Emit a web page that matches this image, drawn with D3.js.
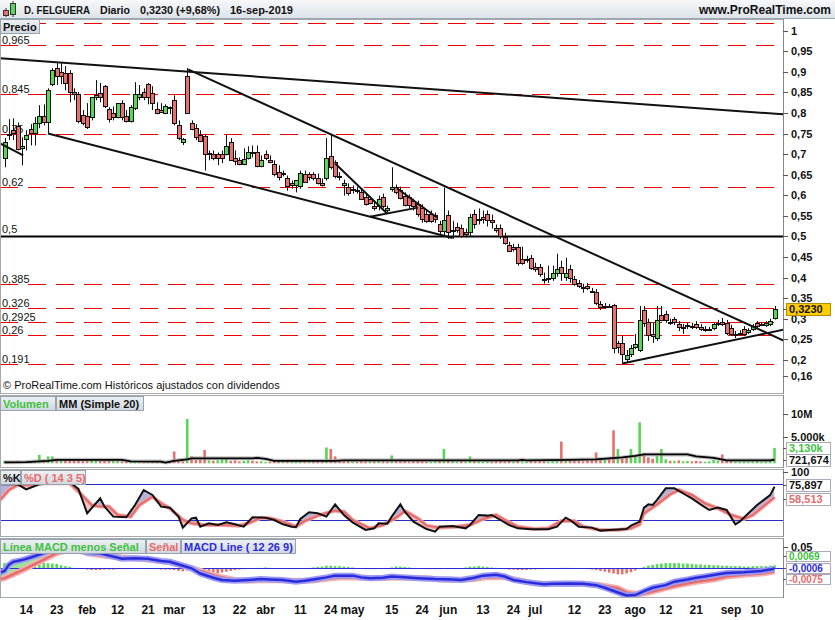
<!DOCTYPE html>
<html>
<head>
<meta charset="utf-8">
<script src="https://cdn.jsdelivr.net/npm/d3@7"></script>
<style>
  body { margin: 0; background: #fff; }
  svg { display: block; font-family: Arial, "Liberation Sans", sans-serif; }
</style>
</head>
<body>
<script>
const WIDTH = 835;
const HEIGHT = 620;
const PLOT_R = 783;

// ---- data ----
const holidays = ['2019-04-19', '2019-04-22', '2019-05-01'];

const opens = [.690,.745,.758,.768,.714,.736,.760,.751,.775,.792, .777,.870,.909,.899,.897,.897,.851,.846,.794,.792,
  .790,.839,.848,.865,.809,.800,.790,.824,.792,.780, .812,.839,.851,.870,.848,.809,.807,.800,.812,.831,
  .770,.729,.890,.775,.763,.746,.743,.702,.700,.700, .700,.700,.729,.690,.685,.675,.690,.704,.704,.670,
  .700,.685,.675,.656,.653,.641,.629,.624,.621,.651, .651,.651,.643,.631,.641,.695,.680,.646,.626,.621,
  .616,.614,.609,.597,.590,.575,.573,.595,.565,.614, .619,.614,.599,.595,.585,.580,.568,.555,.555,.551,
  .531,.514,.551,.516,.524,.521,.511,.509,.555,.543, .546,.555,.541,.521,.521,.499,.480,.475,.475,.446,
  .446,.448,.426,.426,.397,.399,.399,.411,.426,.402, .421,.397,.387,.377,.380,.367,.365,.336,.331,.331,
  .333,.241,.241,.202,.214,.231,.224,.321,.292,.263, .253,.309,.312,.292,.300,.287,.280,.282,.282,.287,
  .280,.275,.275,.277,.287,.292,.290,.277,.263,.265, .275,.268,.275,.290,.287,.285,.287,.300];
const highs = [.739,.785,.787,.777,.741,.758,.773,.790,.819,.821, .860,.909,.921,.921,.914,.904,.860,.851,.807,.824,
  .839,.880,.873,.868,.814,.816,.824,.831,.807,.819, .875,.868,.860,.873,.865,.826,.824,.821,.816,.843,
  .782,.739,.909,.782,.773,.758,.748,.709,.709,.704, .709,.748,.739,.709,.692,.714,.719,.721,.721,.697,
  .709,.697,.685,.673,.660,.648,.636,.636,.660,.660, .656,.656,.653,.641,.739,.748,.685,.656,.638,.629,
  .624,.621,.616,.604,.597,.587,.599,.604,.575,.668, .626,.621,.607,.602,.592,.587,.578,.565,.563,.558,
  .538,.619,.563,.538,.533,.529,.519,.555,.565,.568, .563,.563,.553,.529,.529,.509,.487,.482,.482,.475,
  .453,.455,.436,.433,.412,.429,.429,.458,.441,.448, .431,.404,.394,.385,.387,.375,.372,.343,.338,.336,
  .336,.246,.258,.224,.236,.263,.331,.331,.300,.290, .331,.331,.319,.300,.304,.294,.287,.290,.290,.294,
  .287,.282,.280,.290,.297,.302,.297,.285,.270,.272, .282,.277,.287,.294,.292,.294,.300,.331];
const lows = [.668,.734,.734,.709,.673,.709,.721,.721,.763,.770, .751,.865,.868,.870,.855,.826,.831,.775,.770,.761,
  .782,.831,.826,.812,.777,.782,.787,.782,.777,.777, .807,.831,.831,.821,.807,.797,.800,.797,.797,.770,
  .734,.722,.800,.758,.734,.729,.660,.685,.685,.673, .678,.697,.685,.673,.673,.673,.687,.692,.668,.668,
  .685,.678,.646,.636,.646,.611,.616,.607,.616,.631, .636,.636,.626,.621,.636,.663,.641,.636,.599,.599,
  .604,.604,.590,.575,.578,.563,.563,.568,.558,.609, .602,.590,.573,.568,.563,.548,.533,.533,.533,.533,
  .499,.499,.494,.494,.509,.497,.499,.499,.519,.529, .531,.524,.519,.509,.494,.480,.463,.463,.429,.431,
  .436,.419,.414,.402,.385,.387,.392,.402,.392,.392, .387,.380,.375,.363,.370,.363,.333,.321,.324,.326,
  .216,.216,.191,.192,.207,.226,.219,.280,.246,.241, .246,.294,.290,.285,.285,.270,.263,.275,.275,.275,
  .270,.268,.270,.272,.282,.282,.260,.258,.253,.258, .258,.263,.270,.277,.282,.280,.282,.298];
const closes = [.729,.748,.751,.712,.719,.746,.751,.775,.792,.777, .855,.904,.890,.890,.872,.851,.846,.780,.775,.765,
  .839,.843,.839,.816,.785,.790,.824,.790,.780,.814, .846,.846,.839,.839,.824,.800,.802,.816,.814,.775,
  .739,.736,.800,.760,.741,.731,.700,.700,.690,.690, .690,.719,.685,.683,.675,.687,.704,.702,.670,.685,
  .690,.680,.651,.643,.651,.621,.624,.636,.653,.631, .643,.641,.631,.626,.690,.668,.646,.643,.631,.607,
  .614,.611,.592,.580,.580,.570,.590,.573,.570,.619, .607,.595,.577,.575,.573,.555,.541,.538,.538,.541,
  .514,.541,.509,.514,.516,.502,.507,.546,.531,.541, .541,.541,.536,.516,.502,.485,.465,.470,.436,.436,
  .443,.424,.421,.409,.397,.399,.411,.421,.411,.411, .399,.385,.380,.377,.375,.367,.338,.329,.331,.329,
  .228,.231,.214,.212,.228,.238,.297,.290,.260,.258, .297,.297,.297,.290,.292,.280,.280,.285,.282,.280,
  .275,.275,.275,.287,.290,.287,.265,.263,.263,.263, .263,.272,.282,.282,.285,.290,.2945,.323];

// volume in millions of shares
const volumes = [.5,.4,.3,.5,.3,.4,.3,.5,1.7,.7, 1.4,1.4,.6,.7,.6,.7,.6,.8,.6,.5,
  .7,.6,.5,.6,.7,.5,.6,.4,.3,.3, .4,.3,.3,.3,.3,.3,.2,.3,.4,2.4,
  .5,.4,9.0,1.4,.7,.8,2.7,.6,.5,.6, .8,.9,.5,.6,.4,.5,.6,.5,.4,.4,
  .3,.3,.5,.4,.3,.5,.3,.4,.5,.4, .3,.3,.4,.3,3.2,2.9,1.4,.6,.5,.6,
  .4,.3,.5,.4,.6,.4,.5,.4,.3,1.6, .5,.4,.5,.3,.4,.6,.4,.3,.3,.4,
  .6,2.9,.8,.4,.3,.4,.3,1.4,.5,.4, .3,.4,.3,.4,.5,.4,.5,.3,.6,.4,
  .3,.5,.4,.5,.4,.3,.5,.7,4.4,.6, .5,.6,.5,.4,.6,.8,2.2,1.0,.8,1.0,
  6.7,2.9,1.0,1.2,2.9,1.3,8.3,2.0,1.2,.9, 1.5,2.9,.8,.5,.5,.6,.4,.5,.4,.5,
  .4,.3,.4,.7,.5,1.8,.6,.5,.4,.3, .4,.3,.4,.5,.3,.4,.5,3.13];
// MM (Simple 20) of volume, vertices [bar, millions]
const volMA = [[0,.2],[5,.25],[10,.5],[12,.7],[27,.7],[29,.4],[36,.35],[37,.15],[39,.5],[42,.8],[43,1.0],
  [57,1.0],[58,1.1],[60,.9],[62,.5],[76,.5],[78,.6],[118,.6],[119,.7],[120,.6],[130,.7],[136,.8],
  [139,1.0],[142,1.2],[145,1.5],[147,1.8],[157,1.8],[159,1.4],[163,1.1],[166,.6],[176,.6],[177,.72]];

// Stochastic %K and %D vertices [bar, value]
const stochK = [[-1,80],[3,80],[5,71.6],[8,80],[15,83.3],[17,72.2],[19,31.6],[22,56.6],[23,42.8],[25,26.1],
  [28,25],[30,45.5],[32,70.5],[34,62.2],[36,42.8],[38,41.1],[40,26.1],[41,7.8],[43,23.3],[44,24.4],
  [45,9.4],[47,15],[49,12.2],[51,16.6],[53,13.3],[55,9.4],[57,25],[60,24.4],[62,20.5],[64,13.3],
  [66,9.4],[67,8.9],[68,22.2],[70,33.3],[72,31.6],[74,26.1],[76,46.6],[78,28.9],[80,16.6],[83,3.9],
  [85,6.6],[86,15],[88,14.4],[89,26.1],[91,46.6],[92,34.4],[94,17.8],[97,5.5],[99,1.1],[100,9.4],
  [103,10.5],[106,6.6],[107,12.2],[109,28.9],[111,27.8],[112,28.9],[114,20.5],[116,12.2],[118,6.6],
  [121,5],[125,5],[127,9.4],[129,24.4],[130,20.5],[132,9.4],[135,7.8],[137,2.8],[139,3.9],[143,5.5],
  [144,11.1],[146,17.8],[147,41.1],[148,46.6],[149,45.5],[150,53.9],[152,73.3],[154,73.3],[157,60.5],
  [158,56.6],[160,46.6],[162,37.2],[164,41.1],[166,37.2],[168,13.3],[169,17.8],[171,31.6],[173,45.5],
  [175,56.6],[176,62],[177,75.897]];
const stochD = [[-1,53.9],[1,70.5],[3,78.9],[6,78.9],[9,81.6],[15,81.6],[17,67.8],[20,45.5],[22,42.8],
  [24,42.8],[26,28.9],[29,26.1],[31,45.5],[34,59.4],[36,48.3],[38,40],[41,20.5],[43,15],[46,12.2],
  [50,12.2],[54,11.1],[56,15],[59,24.4],[61,23.3],[64,17.8],[67,9.4],[69,18.9],[72,27.8],[76,36.1],
  [78,34.4],[80,20.5],[84,6.6],[87,12.2],[90,24.4],[92,35.5],[95,23.3],[97,11.1],[100,7.8],[104,9.4],
  [107,12.2],[110,22.2],[113,28.9],[115,20.5],[118,9.4],[122,5.5],[125,6.6],[128,18.9],[131,18.9],
  [133,9.4],[137,3.9],[141,3.9],[144,6.6],[146,13.3],[147,31.6],[150,46.6],[153,63.3],[155,70.5],
  [158,62.2],[161,48.3],[164,40],[167,28.9],[170,22.2],[172,28.9],[175,46.6],[177,58.513]];

// MACD line and signal vertices [bar, value]; histogram per bar
const macdLine = [[-1,-.010],[0,-.006],[1,.008],[2,.015],[4,.019],[6,.025],[9,.035],[11,.045],[14,.052],
  [17,.045],[19,.036],[22,.035],[25,.027],[27,.022],[30,.023],[33,.022],[36,.017],[38,.015],[41,.006],
  [43,0],[45,-.012],[48,-.022],[50,-.027],[53,-.029],[56,-.027],[59,-.025],[61,-.026],[64,-.027],
  [67,-.031],[69,-.029],[71,-.026],[74,-.021],[76,-.017],[80,-.017],[82,-.021],[84,-.023],[87,-.022],
  [89,-.019],[92,-.021],[95,-.023],[99,-.025],[103,-.026],[105,-.027],[108,-.022],[110,-.017],
  [113,-.015],[115,-.019],[117,-.027],[120,-.032],[124,-.037],[126,-.036],[130,-.035],[133,-.036],
  [136,-.039],[138,-.045],[141,-.056],[143,-.063],[145,-.062],[147,-.053],[149,-.045],[152,-.039],
  [154,-.031],[157,-.026],[159,-.022],[161,-.019],[164,-.014],[166,-.011],[170,-.009],[174,-.006],
  [176,-.003],[177,-.0006]];
const signalLine = [[-1,-.025],[0,-.023],[4,-.005],[8,.015],[12,.035],[15,.043],[17,.041],[19,.035],
  [23,.029],[27,.025],[31,.022],[34,.019],[38,.014],[42,.004],[45,-.006],[49,-.019],[53,-.027],
  [56,-.029],[60,-.027],[64,-.028],[67,-.029],[71,-.028],[75,-.023],[78,-.021],[82,-.022],[86,-.023],
  [89,-.022],[93,-.022],[97,-.023],[100,-.026],[104,-.027],[108,-.025],[111,-.020],[115,-.021],
  [119,-.029],[122,-.035],[126,-.036],[130,-.036],[133,-.036],[137,-.039],[141,-.046],[143,-.056],
  [146,-.060],[148,-.056],[152,-.046],[155,-.039],[159,-.031],[163,-.026],[166,-.019],[170,-.015],
  [174,-.012],[177,-.0075]];
const macdHist = [.012,.013,.013,.012,.012,.013,.014,.014,.013,.012,.012,.011,.010,
  .007,.005,.003,.001,-.001,-.002,
  -.003,-.004,-.004,-.004,-.003,-.003,-.003,-.002,-.002,-.002,-.002,-.001,-.001,
  -.001,-.002,-.002,-.002,-.003,-.003,-.003,-.004,-.006,-.007,-.005,-.007,-.009,-.010,-.012,-.013,-.013,-.012,-.010,-.008,-.006,-.004,-.003,-.002,
  -.001,0,.001,.001,.002,.001,0,-.001,-.001,-.001,-.002,-.002,-.001,0,.001,
  .002,.003,.004,.006,.006,.005,.005,.004,.003,.002,
  0,-.001,-.002,-.002,-.002,-.001,-.001,0,
  .002,.004,.004,.003,.002,.001,
  0,-.001,-.002,-.002,-.002,-.002,-.001,-.002,-.001,-.001,0,
  .002,.004,.004,.005,.004,.003,.002,.001,
  -.001,-.002,-.003,-.003,-.004,-.004,-.004,-.003,-.003,-.002,-.002,-.001,0,0,.001,.001,.001,0,-.001,-.001,
  -.002,-.003,-.004,-.006,-.008,-.010,-.012,-.014,-.014,-.012,-.009,-.005,-.001,
  .003,.006,.008,.010,.011,.012,.012,.012,.012,.011,.011,.010,.009,.009,.008,.008,.007,.007,.006,.006,
  .005,.005,.005,.004,.004,.005,.005,.005,.005,.006,.0069];

// horizontal levels drawn on the price panel
const dashedLevels = [1.018, 0.965, 0.845, 0.75, 0.62, 0.385, 0.326, 0.2925, 0.26, 0.191];
const dashedLabels = ['', '0,965', '0,845', '0,75', '0,62', '0,385', '0,326', '0,2925', '0,26', '0,191'];
const solidLevel = 0.5;
// trend lines [bar1, price1, bar2, price2]
const trendLines = [[-1,.933,180,.796],[42.2,.906,180,.2425],[10,.750,103,.496],[-1,.726,4.3,.697],
  [76,.677,88,.555],[84,.548,95,.570],[90.2,.617,99.4,.546],[142,.191,180,.2754]];

const priceTicks = [1,.95,.9,.85,.8,.75,.7,.65,.6,.55,.5,.45,.4,.35,.3,.25,.2,.16];
const xTicks = [['2019-01-14','14'],['2019-01-23','23'],['2019-02-01','feb'],['2019-02-12','12'],
  ['2019-02-21','21'],['2019-03-01','mar'],['2019-03-13','13'],['2019-03-22','22'],['2019-04-01','abr'],
  ['2019-04-11','11'],['2019-04-24','24'],['2019-05-02','may'],['2019-05-15','15'],['2019-05-24','24'],
  ['2019-06-03','jun'],['2019-06-13','13'],['2019-06-24','24'],['2019-07-01','jul'],['2019-07-12','12'],
  ['2019-07-23','23'],['2019-08-01','ago'],['2019-08-12','12'],['2019-08-21','21'],['2019-09-02','sep'],
  ['2019-09-10','10']];

// ---- setup ----
const GREEN = '#57d657';
const RED = '#e5706e';
const SALMON = '#e86a6a';
const BLUE = '#2b2bdc';

const fmtDay = d3.timeFormat('%Y-%m-%d');
const dates = d3.timeDay.range(new Date(2019, 0, 7), new Date(2019, 8, 17))
  .filter(d => d.getDay() !== 0 && d.getDay() !== 6 && !holidays.includes(fmtDay(d)))
  .map(fmtDay);

const n = closes.length;
const x = d3.scaleLinear().domain([0, n - 1]).range([4.5, 774.5]);

const P = {
  price: {top: 19, bottom: 393},
  vol: {top: 395, bottom: 467},
  stoch: {top: 469, bottom: 536},
  macd: {top: 538, bottom: 597},
};
const yPrice = d3.scaleLinear().domain([0.16, 1]).range([376.3, 30.7]);
const yVol = d3.scaleLinear().domain([0, 10]).range([463.3, 414]);
const yStoch = d3.scaleLinear().domain([0, 100]).range([532.3, 472.3]);
const yMacd = d3.scaleLinear().domain([0, 0.05]).range([568.3, 546.7]);

const comma = s => s.replace('.', ',');

const svg = d3.select('body').append('svg')
  .attr('width', WIDTH).attr('height', HEIGHT);

const defs = svg.append('defs');
const hdrGrad = defs.append('linearGradient').attr('id', 'hdr').attr('x1', 0).attr('y1', 0).attr('x2', 0).attr('y2', 1);
hdrGrad.append('stop').attr('offset', 0).attr('stop-color', '#f6f8fa');
hdrGrad.append('stop').attr('offset', 1).attr('stop-color', '#dde3e9');
const legGrad = defs.append('linearGradient').attr('id', 'leg').attr('x1', 0).attr('y1', 0).attr('x2', 0).attr('y2', 1);
legGrad.append('stop').attr('offset', 0).attr('stop-color', '#eef1f4');
legGrad.append('stop').attr('offset', 1).attr('stop-color', '#cfd6dd');

Object.entries(P).forEach(([k, p]) => {
  defs.append('clipPath').attr('id', 'clip-' + k)
    .append('rect').attr('x', 0).attr('y', p.top).attr('width', PLOT_R).attr('height', p.bottom - p.top);
});

// ---- header ----
svg.append('rect').attr('x', 0).attr('y', 0).attr('width', WIDTH).attr('height', 18).attr('fill', 'url(#hdr)');
svg.append('line').attr('x1', 0).attr('x2', WIDTH).attr('y1', 18.5).attr('y2', 18.5).attr('stroke', '#9aa6b2');
const icon = svg.append('g');
icon.append('line').attr('x1', 6).attr('x2', 6).attr('y1', 8).attr('y2', 17).attr('stroke', '#333');
icon.append('rect').attr('x', 3.5).attr('y', 10.5).attr('width', 5).attr('height', 5).attr('fill', RED).attr('stroke', '#333');
icon.append('line').attr('x1', 13).attr('x2', 13).attr('y1', 1).attr('y2', 17).attr('stroke', '#333');
icon.append('rect').attr('x', 10.5).attr('y', 3.5).attr('width', 5).attr('height', 11).attr('fill', GREEN).attr('stroke', '#333');
[['D. FELGUERA', 24, 66], ['Diario', 100, 30], ['0,3230 (+9,68%)', 140, 80], ['16-sep-2019', 230, 63]].forEach(([t, px, w]) => {
  svg.append('text').attr('x', px).attr('y', 13.5).attr('font-size', 11).attr('font-weight', 'bold')
    .attr('textLength', w).attr('lengthAdjust', 'spacingAndGlyphs')
    .attr('fill', '#111').text(t);
});
svg.append('text').attr('x', 831).attr('y', 13.5).attr('text-anchor', 'end').attr('font-size', 12)
  .attr('font-weight', 'bold').attr('fill', '#111').text('www.ProRealTime.com');

// ---- helpers ----
function frame(p) {
  svg.append('rect').attr('x', 0.5).attr('y', p.top + 0.5).attr('width', PLOT_R)
    .attr('height', p.bottom - p.top).attr('fill', 'none').attr('stroke', '#a4a9ae');
}
function legend(items, y) {
  let px = 0;
  items.forEach(([t, color, w]) => {
    svg.append('rect').attr('x', px + 0.5).attr('y', y + 0.5).attr('width', w).attr('height', 14)
      .attr('fill', 'url(#leg)').attr('stroke', '#97a3ae');
    svg.append('text').attr('x', px + 3).attr('y', y + 11.5).attr('font-size', 11)
      .attr('font-weight', 'bold').attr('fill', color).text(t);
    px += w + 1;
  });
}
function axisLabel(y, t) {
  svg.append('line').attr('x1', PLOT_R).attr('x2', PLOT_R + 5).attr('y1', Math.round(y) + 0.5)
    .attr('y2', Math.round(y) + 0.5).attr('stroke', '#555');
  svg.append('text').attr('x', 791).attr('y', y + 4).attr('font-size', 11).attr('font-weight', 'bold')
    .attr('fill', '#111').text(t);
}
function tag(yc, t, color, fill, stroke, h = 12, fs = 11) {
  const top = Math.round(yc - h / 2) + 0.5;
  svg.append('line').attr('x1', PLOT_R).attr('x2', 787).attr('y1', Math.round(yc) + 0.5)
    .attr('y2', Math.round(yc) + 0.5).attr('stroke', '#555');
  svg.append('rect').attr('x', 786.5).attr('y', top).attr('width', 44).attr('height', h)
    .attr('fill', fill).attr('stroke', stroke);
  svg.append('text').attr('x', 789).attr('y', top + h / 2 + fs * 0.36).attr('font-size', fs)
    .attr('font-weight', 'bold').attr('fill', color).text(t);
}
function rightAxisLine(p) {
  svg.append('line').attr('x1', PLOT_R + 0.5).attr('x2', PLOT_R + 0.5).attr('y1', p.top)
    .attr('y2', p.bottom + 1).attr('stroke', '#888');
}

// ---- price panel ----
const gp = svg.append('g').attr('clip-path', 'url(#clip-price)');
dashedLevels.forEach((lv, k) => {
  const yy = Math.round(yPrice(lv)) + 0.5;
  gp.append('line').attr('x1', 0).attr('x2', PLOT_R).attr('y1', yy).attr('y2', yy)
    .attr('stroke', '#ee0000').attr('stroke-width', 1).attr('stroke-dasharray', '18,10');
  if (dashedLabels[k]) {
    gp.append('text').attr('x', 2).attr('y', yy - 2).attr('font-size', 11).attr('fill', '#111')
      .text(dashedLabels[k]);
  }
});
gp.append('line').attr('x1', 0).attr('x2', PLOT_R).attr('y1', yPrice(solidLevel)).attr('y2', yPrice(solidLevel))
  .attr('stroke', '#000').attr('stroke-width', 2);
gp.append('text').attr('x', 2).attr('y', yPrice(solidLevel) - 3).attr('font-size', 11).attr('fill', '#111')
  .text(comma(String(solidLevel)));

const candles = gp.selectAll('g.candle').data(d3.range(n)).enter().append('g').attr('class', 'candle');
candles.append('line')
  .attr('x1', i => Math.round(x(i)) + 0.5).attr('x2', i => Math.round(x(i)) + 0.5)
  .attr('y1', i => yPrice(highs[i])).attr('y2', i => yPrice(lows[i]))
  .attr('stroke', '#111').attr('stroke-width', 1);
candles.append('rect')
  .attr('x', i => Math.round(x(i)) - 1.5)
  .attr('y', i => Math.round(yPrice(Math.max(opens[i], closes[i]))) + 0.5)
  .attr('width', 4)
  .attr('height', i => Math.max(1, Math.round(Math.abs(yPrice(opens[i]) - yPrice(closes[i])))))
  .attr('fill', i => closes[i] >= opens[i] ? GREEN : RED)
  .attr('stroke', '#111').attr('stroke-width', 1);

gp.selectAll('line.trend').data(trendLines).enter().append('line').attr('class', 'trend')
  .attr('x1', d => x(d[0])).attr('y1', d => yPrice(d[1]))
  .attr('x2', d => x(d[2])).attr('y2', d => yPrice(d[3]))
  .attr('stroke', '#111').attr('stroke-width', 2);

svg.append('text').attr('x', 3).attr('y', 389).attr('font-size', 11).attr('fill', '#111')
  .text('\u00a9 ProRealTime.com Hist\u00f3ricos ajustados con dividendos');
frame(P.price);
rightAxisLine(P.price);
legend([['Precio', '#111', 39]], 19);
priceTicks.forEach(v => axisLabel(yPrice(v), comma(String(v))));
tag(yPrice(closes[n - 1]), '0,3230', '#111', '#ffcc00', '#b58e00');

// ---- volume panel ----
const gv = svg.append('g').attr('clip-path', 'url(#clip-vol)');
gv.selectAll('rect').data(d3.range(n)).enter().append('rect')
  .attr('x', i => x(i) - 1.3).attr('width', 2.6)
  .attr('y', i => yVol(volumes[i])).attr('height', i => yVol(0) - yVol(volumes[i]))
  .attr('fill', i => (i === 0 || closes[i] >= closes[i - 1]) ? GREEN : RED);
const maLine = d3.line().x(d => x(d[0])).y(d => yVol(d[1]));
gv.append('path').attr('d', maLine(volMA)).attr('fill', 'none').attr('stroke', '#999').attr('stroke-width', 4).attr('opacity', 0.6);
gv.append('path').attr('d', maLine(volMA)).attr('fill', 'none').attr('stroke', '#000').attr('stroke-width', 1.8);
frame(P.vol);
rightAxisLine(P.vol);
legend([['Volumen', '#3ec23e', 55], ['MM (Simple 20)', '#111', 87]], 396);
axisLabel(yVol(10), '10M');
axisLabel(yVol(5) - 2, '5.000k');
tag(yVol(volumes[n - 1]) + 0.5, '3,130k', '#3ec23e', '#fff', '#aab');
tag(yVol(volumes[n - 1]) + 12, '721,674', '#111', '#fff', '#aab');

// ---- difference fills between two vertex lines ----
function diffFill(g, key, la, lb, y, top, bottom, colA, colB) {
  const lineX = d => x(d[0]);
  const below = d3.area().x(lineX).y0(bottom).y1(d => y(d[1]));
  const above = d3.area().x(lineX).y0(top).y1(d => y(d[1]));
  defs.append('clipPath').attr('id', key + '-abB').append('path').attr('d', above(lb));
  defs.append('clipPath').attr('id', key + '-abA').append('path').attr('d', above(la));
  g.append('g').attr('clip-path', `url(#${key}-abB)`)
    .append('path').attr('d', below(la)).attr('fill', colA);
  g.append('g').attr('clip-path', `url(#${key}-abA)`)
    .append('path').attr('d', below(lb)).attr('fill', colB);
}

// ---- stochastic panel ----
const gs = svg.append('g').attr('clip-path', 'url(#clip-stoch)');
diffFill(gs, 'st', stochK, stochD, yStoch, P.stoch.top, P.stoch.bottom, '#b3b3dc', '#f3c4c4');
[80, 20].forEach(v => {
  gs.append('line').attr('x1', 0).attr('x2', PLOT_R).attr('y1', Math.round(yStoch(v)) + 0.5)
    .attr('y2', Math.round(yStoch(v)) + 0.5).attr('stroke', '#2a2ac8');
});
const stLine = d3.line().x(d => x(d[0])).y(d => yStoch(d[1]));
gs.append('path').attr('d', stLine(stochD)).attr('fill', 'none').attr('stroke', '#f0a8a8').attr('stroke-width', 4);
gs.append('path').attr('d', stLine(stochD)).attr('fill', 'none').attr('stroke', SALMON).attr('stroke-width', 2);
gs.append('path').attr('d', stLine(stochK)).attr('fill', 'none').attr('stroke', '#111').attr('stroke-width', 2);
frame(P.stoch);
rightAxisLine(P.stoch);
legend([['%K', '#111', 20], ['%D ( 14 3 5)', SALMON, 64]], 470);
axisLabel(yStoch(100), '100');
tag(yStoch(75.897) - 2, '75,897', '#111', '#fff', '#aab');
tag(yStoch(58.513) + 1.5, '58,513', SALMON, '#fff', '#aab');

// ---- MACD panel ----
const gm = svg.append('g').attr('clip-path', 'url(#clip-macd)');
gm.selectAll('rect').data(d3.range(n)).enter().append('rect')
  .attr('x', i => x(i) - 1.3).attr('width', 2.6)
  .attr('y', i => Math.min(yMacd(0), yMacd(macdHist[i])))
  .attr('height', i => Math.abs(yMacd(macdHist[i]) - yMacd(0)))
  .attr('fill', i => macdHist[i] >= 0 ? GREEN : RED);
diffFill(gm, 'mc', macdLine, signalLine, yMacd, P.macd.top, P.macd.bottom, '#9fe39f', '#f2a9a9');
gm.append('line').attr('x1', 0).attr('x2', PLOT_R).attr('y1', Math.round(yMacd(0)) + 0.5)
  .attr('y2', Math.round(yMacd(0)) + 0.5).attr('stroke', BLUE);
const mLine = d3.line().x(d => x(d[0])).y(d => yMacd(d[1]));
gm.append('path').attr('d', mLine(signalLine)).attr('fill', 'none').attr('stroke', '#f3b0b0').attr('stroke-width', 6);
gm.append('path').attr('d', mLine(signalLine)).attr('fill', 'none').attr('stroke', SALMON).attr('stroke-width', 2.5);
gm.append('path').attr('d', mLine(macdLine)).attr('fill', 'none').attr('stroke', '#9a9af5').attr('stroke-width', 6);
gm.append('path').attr('d', mLine(macdLine)).attr('fill', 'none').attr('stroke', BLUE).attr('stroke-width', 2.5);
frame(P.macd);
rightAxisLine(P.macd);
legend([['L\u00ednea MACD menos Se\u00f1al', '#3ec23e', 145], ['Se\u00f1al', SALMON, 34], ['MACD Line ( 12 26 9)', BLUE, 114]], 539);
axisLabel(yMacd(0.05), '0,05');
tag(556, '0,0069', '#3ec23e', '#fff', '#aab', 10, 10);
tag(567.5, '-0,0006', BLUE, '#fff', '#aab', 10, 10);
tag(579, '-0,0075', SALMON, '#fff', '#aab', 10, 10);

// ---- date axis ----
xTicks.forEach(([d, t]) => {
  const i = dates.indexOf(d);
  if (i < 0) return;
  svg.append('text').attr('x', x(i)).attr('y', 614).attr('text-anchor', 'middle')
    .attr('font-size', 12).attr('font-weight', 'bold').attr('fill', '#111').text(t);
});
</script>
</body>
</html>
